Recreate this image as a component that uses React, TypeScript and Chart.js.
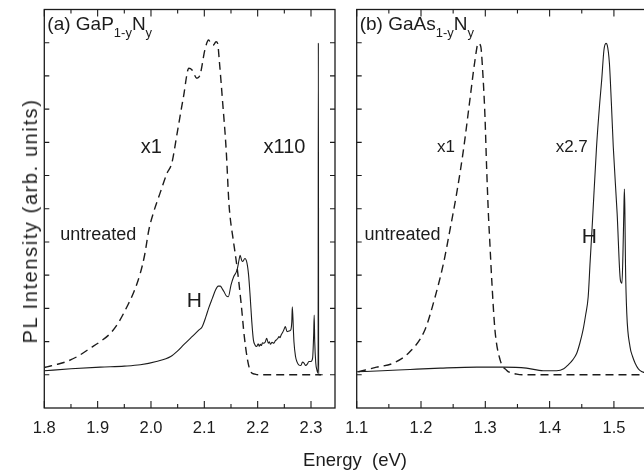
import React, { useEffect, useRef } from 'react';
import { Chart, registerables } from 'chart.js';

Chart.register(...registerables);

const FONT = '"Liberation Sans", Arial, Helvetica, sans-serif';
const INK = '#1c1c1c';

// ---------- Panel (a): GaP1-yNy ----------
const gapTicks = [1.8, 1.9, 2.0, 2.1, 2.2, 2.3];
const gapUntreatedE = [1.8, 1.805, 1.823, 1.842, 1.862, 1.886, 1.905, 1.924, 1.94, 1.955, 1.968, 1.98, 1.988, 1.996, 2.005, 2.017, 2.03, 2.039, 2.049, 2.061, 2.071, 2.077, 2.086, 2.092, 2.101, 2.108, 2.113, 2.117, 2.122, 2.125, 2.128, 2.134, 2.141, 2.146, 2.149, 2.153, 2.162, 2.169, 2.175, 2.181, 2.187, 2.195, 2.203, 2.319];
const gapUntreatedI = [1.22, 1.24, 1.31, 1.4, 1.55, 1.8, 2.0, 2.25, 2.6, 3.05, 3.5, 4.06, 4.6, 5.36, 5.9, 6.47, 7.07, 7.37, 8.27, 9.38, 10.23, 10.18, 9.93, 10.03, 10.78, 11.08, 10.95, 10.93, 11.03, 10.98, 10.48, 9.28, 7.77, 6.2, 5.66, 5.2, 4.16, 3.15, 2.15, 1.45, 1.09, 1.02, 1.0, 1.0];
const gapHE = [1.8, 1.85, 1.905, 1.95, 1.98, 2.01, 2.037, 2.05, 2.061, 2.077, 2.09, 2.096, 2.103, 2.108, 2.115, 2.121, 2.126, 2.13, 2.134, 2.137, 2.141, 2.145, 2.15, 2.155, 2.16, 2.162, 2.165, 2.167, 2.17, 2.172, 2.176, 2.18, 2.183, 2.186, 2.189, 2.192, 2.195, 2.198, 2.201, 2.203, 2.205, 2.207, 2.209, 2.211, 2.214, 2.217, 2.22, 2.222, 2.224, 2.227, 2.23, 2.233, 2.235, 2.238, 2.24, 2.242, 2.244, 2.247, 2.249, 2.252, 2.255, 2.259, 2.262, 2.264, 2.265, 2.267, 2.268, 2.271, 2.274, 2.277, 2.281, 2.284, 2.287, 2.29, 2.293, 2.296, 2.3, 2.303, 2.305, 2.306, 2.307, 2.309, 2.311, 2.3133, 2.3138, 2.3143, 2.316, 2.322];
const gapHI = [1.12, 1.18, 1.23, 1.26, 1.3, 1.4, 1.55, 1.72, 1.9, 2.15, 2.35, 2.45, 2.75, 3.0, 3.3, 3.55, 3.67, 3.67, 3.58, 3.5, 3.38, 3.35, 3.7, 3.95, 4.1, 4.2, 4.45, 4.6, 4.45, 4.41, 4.5, 4.36, 4.0, 3.35, 2.6, 2.05, 1.9, 1.85, 1.93, 1.86, 1.92, 1.88, 1.96, 1.95, 1.98, 2.1, 1.95, 1.99, 1.92, 1.98, 1.95, 2.02, 2.05, 2.1, 2.15, 2.12, 2.2, 2.28, 2.35, 2.45, 2.3, 2.32, 2.35, 2.6, 3.05, 2.35, 2.0, 1.55, 1.38, 1.3, 1.28, 1.38, 1.35, 1.28, 1.32, 1.4, 1.4, 1.5, 2.2, 2.8, 2.0, 1.35, 1.15, 1.05, 11.0, 1.0, 1.0, 1.0];

// ---------- Panel (b): GaAs1-yNy ----------
const gaasTicks = [1.1, 1.2, 1.3, 1.4, 1.5];
const gaasUntreatedE = [1.1025, 1.131, 1.157, 1.183, 1.206, 1.222, 1.235, 1.245, 1.2555, 1.266, 1.276, 1.284, 1.289, 1.293, 1.2955, 1.2995, 1.302, 1.305, 1.307, 1.31, 1.315, 1.323, 1.333, 1.349, 1.36, 1.58];
const gaasUntreatedI = [1.09, 1.23, 1.35, 1.7, 2.35, 3.35, 4.36, 5.36, 6.47, 7.77, 9.28, 10.48, 10.98, 10.88, 10.28, 8.77, 7.27, 5.76, 5.0, 3.86, 2.35, 1.45, 1.14, 1.02, 1.0, 1.0];
const gaasHE = [1.1, 1.14, 1.183, 1.23, 1.287, 1.328, 1.364, 1.39, 1.411, 1.422, 1.429, 1.436, 1.442, 1.447, 1.452, 1.456, 1.46, 1.463, 1.466, 1.473, 1.478, 1.481, 1.4845, 1.4877, 1.4896, 1.493, 1.496, 1.499, 1.505, 1.51, 1.5125, 1.514, 1.5155, 1.5163, 1.517, 1.518, 1.52, 1.525, 1.529, 1.533, 1.538, 1.544, 1.55, 1.56];
const gaasHI = [1.09, 1.12, 1.16, 1.2, 1.23, 1.23, 1.2, 1.12, 1.12, 1.18, 1.3, 1.45, 1.64, 1.95, 2.35, 2.8, 3.35, 4.4, 5.4, 7.87, 9.2, 9.88, 10.78, 10.98, 10.93, 10.38, 9.2, 7.87, 5.86, 3.86, 3.76, 4.6, 6.0, 6.59, 6.0, 4.3, 2.85, 1.85, 1.55, 1.35, 1.18, 1.09, 1.05, 1.02];

const intensityTicks = [1, 2, 3, 4, 5, 6, 7, 8, 9, 10, 11];

type Ann = { text: string; x: number; y: number; size: number };
type Part = { t: string; sub?: boolean };

const gapLabels: Ann[] = [
  { text: 'x1', x: 2.0008, y: 7.68, size: 20 },
  { text: 'x110', x: 2.2503, y: 7.68, size: 20 },
  { text: 'untreated', x: 1.901, y: 5.06, size: 18 },
  { text: 'H', x: 2.0814, y: 3.05, size: 21 },
];
const gaasLabels: Ann[] = [
  { text: 'x1', x: 1.2389, y: 7.72, size: 17 },
  { text: 'x2.7', x: 1.4344, y: 7.72, size: 17 },
  { text: 'untreated', x: 1.1712, y: 5.06, size: 18 },
  { text: 'H', x: 1.4616, y: 4.96, size: 21 },
];
const gapTitle: Part[] = [{ t: '(a) GaP' }, { t: '1-y', sub: true }, { t: 'N' }, { t: 'y', sub: true }];
const gaasTitle: Part[] = [{ t: '(b) GaAs' }, { t: '1-y', sub: true }, { t: 'N' }, { t: 'y', sub: true }];

const pts = (xs: number[], ys: number[]) => xs.map((x, i) => ({ x, y: ys[i] }));

function framePlugin(majors: number[], step: number, anns: Ann[], title: Part[]) {
  return {
    id: 'frameAndText',
    afterDatasetsDraw(chart: any) {
      const { ctx, chartArea } = chart;
      const { left, right, top, bottom } = chartArea;
      const xs = chart.scales.x;
      const ys = chart.scales.y;
      ctx.save();
      ctx.strokeStyle = INK;
      ctx.lineWidth = 1.3;
      ctx.strokeRect(left, top, right - left, bottom - top);
      ctx.lineWidth = 1.1;
      ctx.beginPath();
      const draw = (v: number, len: number) => {
        const px = xs.getPixelForValue(v);
        if (px < left - 0.5 || px > right + 0.5) return;
        ctx.moveTo(px, bottom);
        ctx.lineTo(px, bottom - len);
        ctx.moveTo(px, top);
        ctx.lineTo(px, top + len);
      };
      majors.forEach((v) => {
        draw(v, 7);
        draw(v + step / 2, 4);
      });
      draw(majors[0] - step / 2, 4);
      intensityTicks.forEach((v) => {
        const py = ys.getPixelForValue(v);
        ctx.moveTo(left, py);
        ctx.lineTo(left + 5, py);
        ctx.moveTo(right, py);
        ctx.lineTo(right - 5, py);
      });
      ctx.stroke();

      ctx.fillStyle = INK;
      ctx.textAlign = 'center';
      ctx.textBaseline = 'alphabetic';
      anns.forEach((a) => {
        ctx.font = `${a.size}px ${FONT}`;
        ctx.fillText(a.text, xs.getPixelForValue(a.x), ys.getPixelForValue(a.y));
      });

      ctx.textAlign = 'left';
      let cx = left + 3;
      const by = top + 20;
      title.forEach((p) => {
        ctx.font = `${p.sub ? 13 : 19}px ${FONT}`;
        ctx.fillText(p.t, cx, p.sub ? by + 7 : by);
        cx += ctx.measureText(p.t).width;
      });
      ctx.restore();
    },
  };
}

function buildConfig(o: {
  datasets: any[];
  xmin: number;
  xmax: number;
  ticks: number[];
  yWidth: number;
  padRight: number;
  anns: Ann[];
  title: Part[];
}): any {
  return {
    type: 'line',
    data: { datasets: o.datasets },
    options: {
      responsive: false,
      animation: false,
      devicePixelRatio: 1,
      layout: { padding: { top: 9.5, right: o.padRight, bottom: 0, left: 0 } },
      plugins: { legend: { display: false }, tooltip: { enabled: false } },
      elements: { point: { radius: 0 } },
      scales: {
        x: {
          type: 'linear',
          min: o.xmin,
          max: o.xmax,
          grid: { display: false },
          border: { display: false },
          afterBuildTicks: (s: any) => {
            s.ticks = o.ticks.map((v) => ({ value: v }));
          },
          afterFit: (s: any) => {
            s.height = 66;
          },
          ticks: {
            autoSkip: false,
            maxRotation: 0,
            padding: 3,
            color: INK,
            font: { family: FONT, size: 16.5 },
            callback: (v: any) => Number(v).toFixed(1),
          },
        },
        y: {
          type: 'linear',
          min: 0,
          max: 12,
          grid: { display: false },
          border: { display: false },
          ticks: { display: false },
          afterFit: (s: any) => {
            s.width = o.yWidth;
          },
        },
      },
    },
    plugins: [framePlugin(o.ticks, 0.1, o.anns, o.title)],
  };
}

const solid = (E: number[], I: number[]) => ({
  data: pts(E, I),
  borderColor: INK,
  borderWidth: 1.1,
  pointRadius: 0,
  fill: false,
  cubicInterpolationMode: 'monotone',
});
const dashed = (E: number[], I: number[]) => ({
  data: pts(E, I),
  borderColor: INK,
  borderWidth: 1.4,
  borderDash: [8, 5],
  pointRadius: 0,
  fill: false,
  cubicInterpolationMode: 'monotone',
});

export default function App() {
  const aRef = useRef<HTMLCanvasElement>(null);
  const bRef = useRef<HTMLCanvasElement>(null);

  useEffect(() => {
    const ca = new Chart(
      aRef.current as HTMLCanvasElement,
      buildConfig({
        datasets: [dashed(gapUntreatedE, gapUntreatedI), solid(gapHE, gapHI)],
        xmin: 1.8,
        xmax: 2.345,
        ticks: gapTicks,
        yWidth: 44.3,
        padRight: 5,
        anns: gapLabels,
        title: gapTitle,
      })
    );
    const cb = new Chart(
      bRef.current as HTMLCanvasElement,
      buildConfig({
        datasets: [dashed(gaasUntreatedE, gaasUntreatedI), solid(gaasHE, gaasHI)],
        xmin: 1.1,
        xmax: 1.56,
        ticks: gaasTicks,
        yWidth: 16.7,
        padRight: 5.5,
        anns: gaasLabels,
        title: gaasTitle,
      })
    );
    return () => {
      ca.destroy();
      cb.destroy();
    };
  }, []);

  return (
    <div
      style={{
        position: 'fixed',
        left: 0,
        top: 0,
        width: 644,
        height: 474,
        overflow: 'hidden',
        background: '#fff',
      }}
    >
      <canvas
        ref={aRef}
        width={340}
        height={474}
        style={{ position: 'absolute', left: 0, top: 0, width: 340, height: 474 }}
      />
      <canvas
        ref={bRef}
        width={318}
        height={474}
        style={{ position: 'absolute', left: 340, top: 0, width: 318, height: 474 }}
      />
      <div
        style={{
          position: 'absolute',
          left: 30,
          top: 221,
          transform: 'translate(-50%, -50%) rotate(-90deg)',
          whiteSpace: 'nowrap',
          fontFamily: FONT,
          fontSize: 20,
          lineHeight: '20px',
          letterSpacing: '1.6px',
          color: INK,
        }}
      >
        PL Intensity (arb. units)
      </div>
      <div
        style={{
          position: 'absolute',
          left: 355,
          top: 451,
          transform: 'translateX(-50%)',
          whiteSpace: 'pre',
          fontFamily: FONT,
          fontSize: 18.5,
          lineHeight: '18.5px',
          color: INK,
        }}
      >
        {'Energy  (eV)'}
      </div>
    </div>
  );
}
